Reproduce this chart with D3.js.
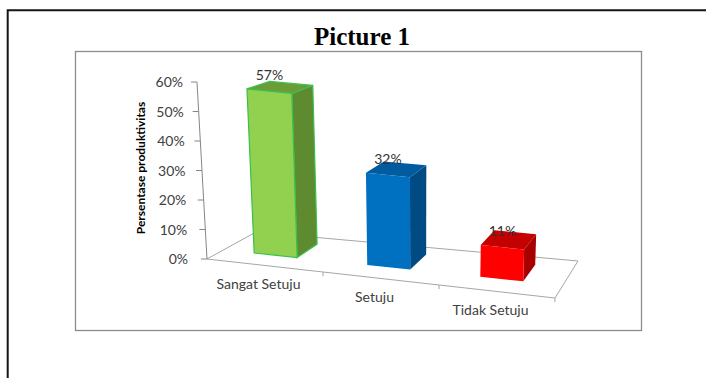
<!DOCTYPE html>
<html>
<head>
<meta charset="utf-8">
<script src="https://cdn.jsdelivr.net/npm/d3@7"></script>
<style>
  body { margin: 0; background: #fff; }
  svg { display: block; }
</style>
</head>
<body>
<script>
// chart values
var categories = ["Sangat Setuju", "Setuju", "Tidak Setuju"];
var values = [0.57, 0.32, 0.11];
var valueLabels = ["57%", "32%", "11%"];
var yTicks = [0, 0.1, 0.2, 0.3, 0.4, 0.5, 0.6];

// colours per bar: front, side, top
var frontColors = ["#92D050", "#0070C0", "#FF0000"];
var sideColors = ["#5E8A30", "#004B84", "#A80000"];
var topColors = ["#6C9C38", "#005C9E", "#C40000"];

var W = 706, H = 378;

var svg = d3.select("body").append("svg")
    .attr("width", W)
    .attr("height", H);

// outer frame (no bottom / right line visible)
svg.append("path")
    .attr("d", "M7.7," + H + "V10.3H" + W)
    .attr("fill", "none")
    .attr("stroke", "#151515")
    .attr("stroke-width", 2);

// title
svg.append("text")
    .attr("x", 362)
    .attr("y", 45)
    .attr("text-anchor", "middle")
    .style("font-family", "'Liberation Serif', 'DejaVu Serif', serif")
    .style("font-weight", "bold")
    .style("font-size", "25px")
    .attr("fill", "#000")
    .text("Picture 1");

// inner chart box
svg.append("rect")
    .attr("x", 75.5)
    .attr("y", 51.5)
    .attr("width", 566)
    .attr("height", 279)
    .attr("fill", "none")
    .attr("stroke", "#8c8c8c")
    .attr("stroke-width", 1.3);

//3D floor corners on screen: front-left, front-right, back-left, back-right
var F0 = [207, 259], F1 = [555, 298], B0 = [256, 232], B1 = [578, 261];
var vpX = 420, vpDist = 3770;

// u: along category axis, v: value, w: depth (0 front, 1 back)
var uScale = d3.scaleBand().domain(categories).range([0, 1]);
var hScale = d3.scaleLinear().domain([0, 0.6]).range([0, 177]);

function project(u, v, w) {
    var fx = F0[0] + (F1[0] - F0[0]) * u,
        fy = F0[1] + (F1[1] - F0[1]) * u,
        bx = B0[0] + (B1[0] - B0[0]) * u,
        by = B0[1] + (B1[1] - B0[1]) * u;
    var xf = fx + (bx - fx) * w,
        yf = fy + (by - fy) * w;
    var h = hScale(v) * (1 - 0.07 * w);
    var x = vpX + (xf - vpX) * (1 + h / vpDist);
    return [x, yf - h];
}

function poly(pts) {
    return "M" + pts.map(function(p) { return p[0].toFixed(2) + "," + p[1].toFixed(2); }).join("L") + "Z";
}

var font = "Lato, 'Open Sans', sans-serif";

// floor outline
svg.append("path")
    .attr("d", poly([project(0, 0, 0), project(1, 0, 0), project(1, 0, 1), project(0, 0, 1)]))
    .attr("fill", "none")
    .attr("stroke", "#a6a6a6")
    .attr("stroke-width", 1);

// category ticks on front edge
[1 / 3, 2 / 3, 1].forEach(function(u) {
    var a = project(u, 0, 0), b = project(u, -0.014, 0);
    svg.append("line")
        .attr("x1", a[0]).attr("y1", a[1])
        .attr("x2", b[0]).attr("y2", b[1])
        .attr("stroke", "#a6a6a6");
});

// y axis
var axTop = project(0, 0.6, 0), axBot = project(0, 0, 0);
svg.append("line")
    .attr("x1", axBot[0]).attr("y1", axBot[1])
    .attr("x2", axTop[0]).attr("y2", axTop[1])
    .attr("stroke", "#868686");

var yAxis = svg.append("g").attr("class", "y axis");
yTicks.forEach(function(t) {
    var p = project(0, t, 0);
    yAxis.append("line")
        .attr("x1", p[0] - 6).attr("y1", p[1])
        .attr("x2", p[0]).attr("y2", p[1])
        .attr("stroke", "#868686");
    yAxis.append("text")
        .attr("x", (p[0] + axTop[0]) / 2 - 14)
        .attr("y", p[1])
        .attr("dy", "0.36em")
        .attr("text-anchor", "end")
        .style("font-family", font)
        .style("font-size", "14px")
        .attr("fill", "#404040")
        .text(d3.format(".0%")(t));
});

// y axis title
svg.append("text")
    .attr("transform", "translate(145,168) rotate(-90)")
    .attr("text-anchor", "middle")
    .style("font-family", font)
    .style("font-weight", "bold")
    .style("font-size", "12px")
    .attr("fill", "#000")
    .text("Persentase produktivitas");

// bars
var w0 = 0.34, w1 = 0.80;
var bars = svg.append("g").attr("class", "bars");
categories.forEach(function(c, i) {
    var u0 = uScale(c) + uScale.bandwidth() * 0.27,
        u1 = uScale(c) + uScale.bandwidth() * 0.65,
        v = values[i];
    var g = bars.append("g");
    var stroke = i === 0 ? "#3cbf4c" : "none";
    // right side
    g.append("path")
        .attr("d", poly([project(u1, 0, w0), project(u1, 0, w1), project(u1, v, w1), project(u1, v, w0)]))
        .attr("fill", sideColors[i])
        .attr("stroke", stroke).attr("stroke-width", 1.2);
    // top
    g.append("path")
        .attr("d", poly([project(u0, v, w0), project(u1, v, w0), project(u1, v, w1), project(u0, v, w1)]))
        .attr("fill", topColors[i])
        .attr("stroke", stroke).attr("stroke-width", 1.2);
    // front
    g.append("path")
        .attr("d", poly([project(u0, 0, w0), project(u1, 0, w0), project(u1, v, w0), project(u0, v, w0)]))
        .attr("fill", frontColors[i])
        .attr("stroke", stroke).attr("stroke-width", 1.2);

    // value label
    var lp = project((u0 + u1) / 2, v, w0);
    svg.append("text")
        .attr("x", lp[0])
        .attr("y", lp[1] - 11)
        .attr("text-anchor", "middle")
        .style("font-family", font)
        .style("font-size", "14px")
        .attr("fill", "#333")
        .text(valueLabels[i]);
});

// category labels
categories.forEach(function(c) {
    var p = project(uScale(c) + uScale.bandwidth() / 2, 0, 0);
    svg.append("text")
        .attr("x", p[0] - 6.5)
        .attr("y", p[1] + 23)
        .attr("text-anchor", "middle")
        .style("font-family", font)
        .style("font-size", "14px")
        .attr("fill", "#404040")
        .text(c);
});
</script>
</body>
</html>
